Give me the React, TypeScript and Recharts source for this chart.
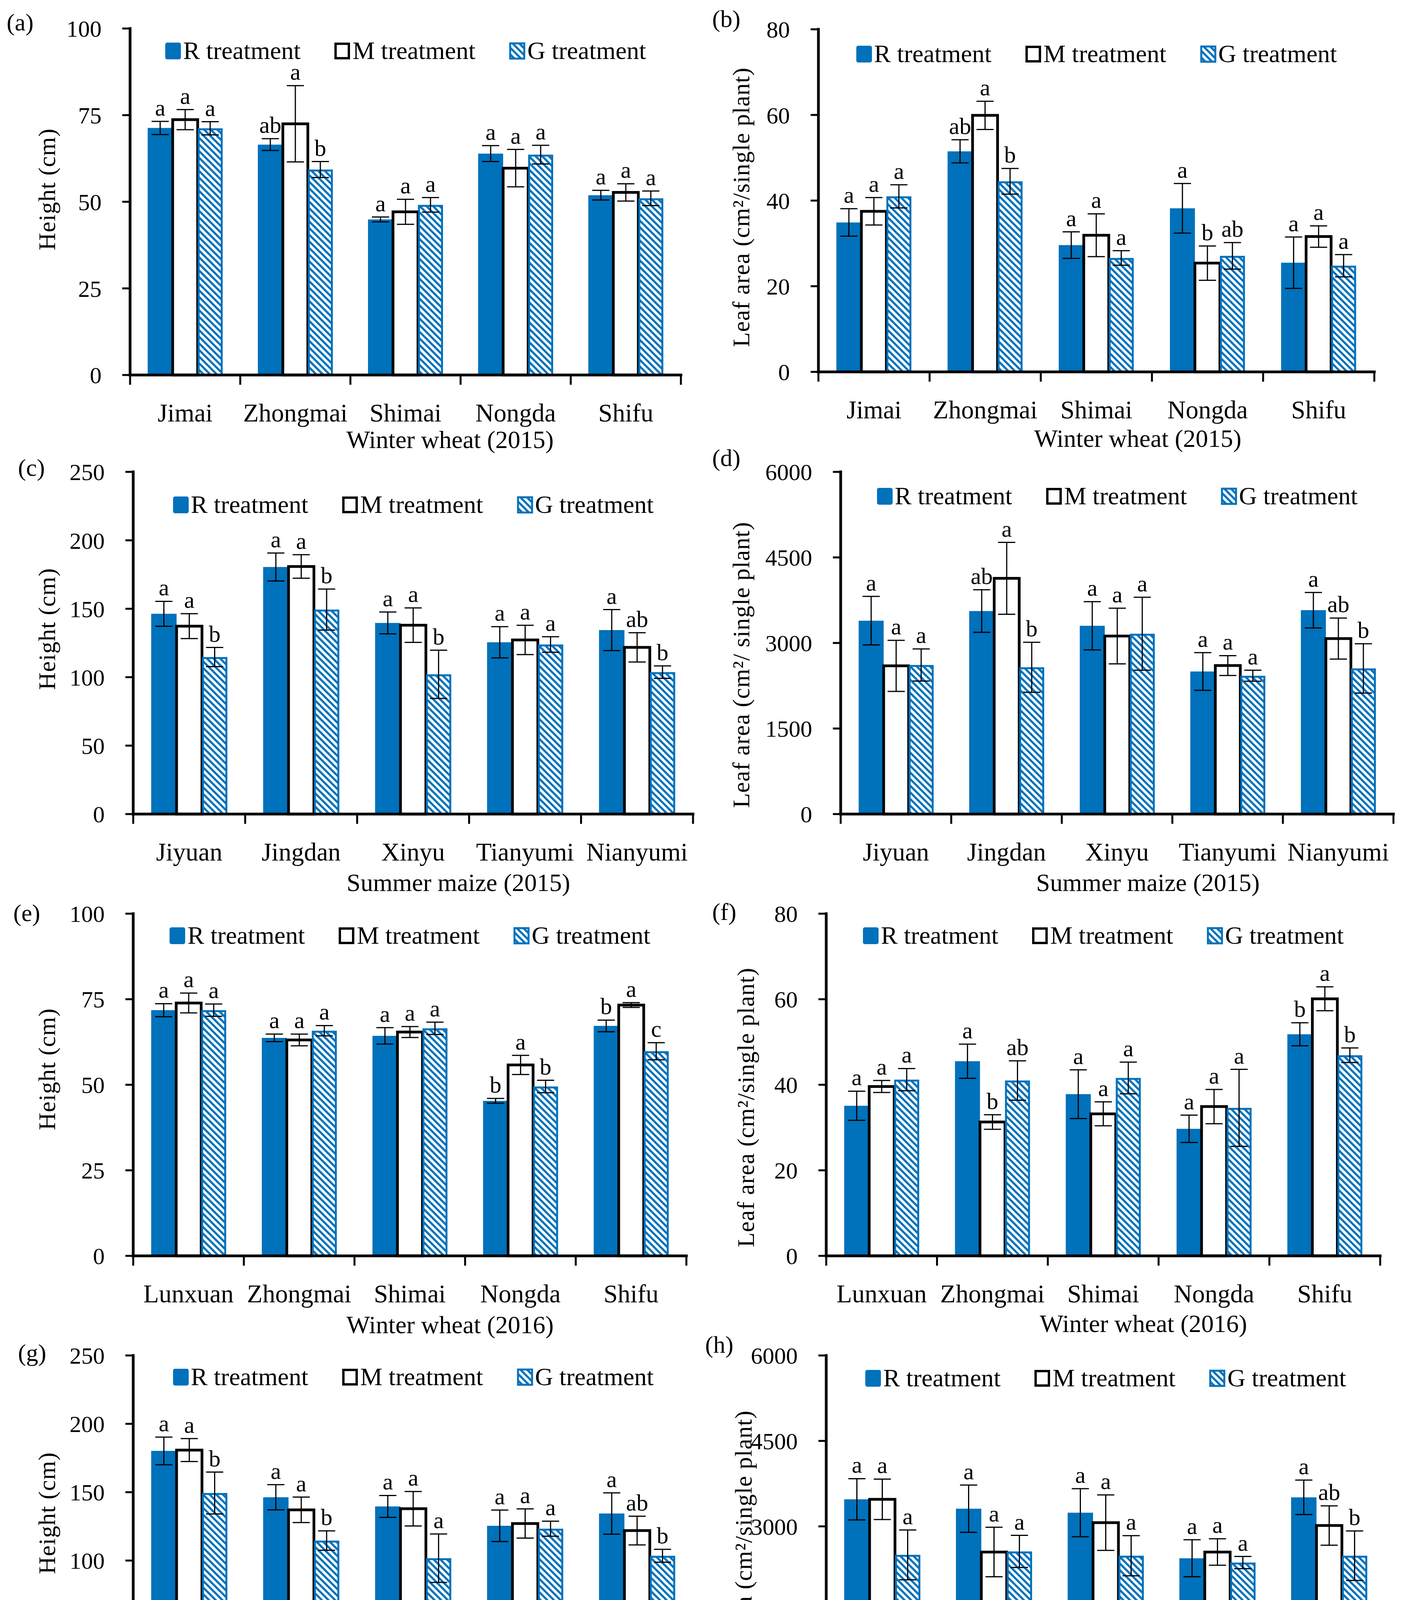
import React from 'react';
import { BarChart, Bar, XAxis, YAxis, ErrorBar, LabelList, Legend } from 'recharts';

const FONT = '"Liberation Serif", "Times New Roman", Times, serif';
const BLUE = '#0071BB';
const PAGE_W = 3594;
const PAGE_H = 4573;
const COL_W = 1797;
const ROW_H = 1143;
const CHART_H = ROW_H + 90;
const Y_W = 160;
const X_H = 60;

// categories
const WHEAT_2015 = ['Jimai', 'Zhongmai', 'Shimai', 'Nongda', 'Shifu'];
const WHEAT_2016 = ['Lunxuan', 'Zhongmai', 'Shimai', 'Nongda', 'Shifu'];
const MAIZE = ['Jiyuan', 'Jingdan', 'Xinyu', 'Tianyumi', 'Nianyumi'];
const SERIES = ['R treatment', 'M treatment', 'G treatment'];

// tick labels
const TICKS_H100 = [0, 25, 50, 75, 100];
const TICKS_L80 = [0, 20, 40, 60, 80];
const TICKS_H250 = [0, 50, 100, 150, 200, 250];
const TICKS_L6000 = [0, 1500, 3000, 4500, 6000];

// (a) height, winter wheat 2015
const aR = [71.3, 66.5, 44.9, 63.9, 51.9];
const aM = [73.7, 72.5, 47.1, 59.7, 52.7];
const aG = [71.2, 59.3, 49.1, 63.6, 51.0];
const aRE = [1.9, 1.7, 0.7, 2.3, 1.4];
const aME = [2.9, 11.0, 3.6, 5.4, 2.5];
const aGE = [1.9, 2.3, 2.1, 2.7, 2.1];
const aLet = [['a', 'a', 'a'], ['ab', 'a', 'b'], ['a', 'a', 'a'], ['a', 'a', 'a'], ['a', 'a', 'a']];

// (b) leaf area, winter wheat 2015
const bR = [34.9, 51.5, 29.6, 38.2, 25.5];
const bM = [37.5, 59.9, 31.9, 25.4, 31.6];
const bG = [41.0, 44.5, 26.6, 27.1, 24.8];
const bRE = [3.2, 2.7, 3.1, 5.8, 6.0];
const bME = [3.2, 3.3, 5.0, 4.0, 2.5];
const bGE = [2.7, 3.0, 1.7, 3.1, 2.6];
const bLet = [['a', 'a', 'a'], ['ab', 'a', 'b'], ['a', 'a', 'a'], ['a', 'b', 'ab'], ['a', 'a', 'a']];

// (c) height, summer maize 2015
const cR = [146.3, 180.5, 139.6, 125.5, 134.4];
const cM = [137.3, 180.9, 138.0, 127.2, 121.8];
const cG = [114.7, 149.4, 102.1, 123.9, 103.7];
const cRE = [9.1, 10.2, 8.0, 11.4, 15.0];
const cME = [9.1, 8.6, 12.6, 10.7, 10.7];
const cGE = [7.0, 15.0, 17.6, 5.7, 4.5];
const cLet = [['a', 'a', 'b'], ['a', 'a', 'b'], ['a', 'a', 'b'], ['a', 'a', 'a'], ['a', 'ab', 'b']];

// (d) leaf area, summer maize 2015
const dR = [3391, 3560, 3301, 2500, 3575];
const dM = [2599, 4133, 3122, 2604, 3077];
const dG = [2614, 2574, 3162, 2425, 2554];
const dRE = [425, 373, 423, 331, 311];
const dME = [448, 630, 488, 174, 359];
const dGE = [281, 438, 640, 97, 433];
const dLet = [['a', 'a', 'a'], ['ab', 'a', 'b'], ['a', 'a', 'a'], ['a', 'a', 'a'], ['a', 'ab', 'b']];

// (e) height, winter wheat 2016
const eR = [71.8, 63.7, 64.3, 45.3, 67.2];
const eM = [73.9, 63.1, 65.4, 55.8, 73.3];
const eG = [71.8, 65.8, 66.5, 49.5, 59.8];
const eRE = [1.9, 1.1, 2.4, 0.7, 1.7];
const eME = [2.9, 1.7, 1.6, 2.8, 0.7];
const eGE = [1.8, 1.5, 1.8, 1.8, 2.5];
const eLet = [['a', 'a', 'a'], ['a', 'a', 'a'], ['a', 'a', 'a'], ['b', 'a', 'b'], ['b', 'a', 'c']];

// (f) leaf area, winter wheat 2016
const fR = [35.1, 45.5, 37.8, 29.7, 51.8];
const fM = [39.6, 31.3, 33.2, 34.9, 60.1];
const fG = [41.2, 41.0, 41.6, 34.6, 46.9];
const fRE = [3.4, 4.0, 5.7, 3.2, 2.7];
const fME = [1.4, 1.7, 2.8, 4.0, 2.8];
const fGE = [2.6, 4.6, 3.7, 9.0, 1.7];
const fLet = [['a', 'a', 'a'], ['a', 'b', 'ab'], ['a', 'a', 'a'], ['a', 'a', 'a'], ['b', 'a', 'b']];

// (g) height, summer maize 2016
const gR = [180.2, 146.3, 139.6, 125.4, 134.4];
const gM = [180.8, 137.1, 137.9, 127.1, 121.9];
const gG = [149.4, 114.6, 101.7, 123.3, 103.5];
const gRE = [10.1, 9.2, 8.0, 11.5, 15.1];
const gME = [8.4, 9.3, 12.6, 10.7, 10.5];
const gGE = [15.3, 7.1, 17.7, 5.5, 4.7];
const gLet = [['a', 'a', 'b'], ['a', 'a', 'b'], ['a', 'a', 'a'], ['a', 'a', 'a'], ['a', 'ab', 'b']];

// (h) leaf area, summer maize 2016
const hR = [3475, 3310, 3240, 2440, 3510];
const hM = [3475, 2550, 3065, 2550, 3015];
const hG = [2500, 2560, 2485, 2365, 2485];
const hRE = [362, 415, 422, 325, 302];
const hME = [355, 435, 487, 232, 345];
const hGE = [437, 282, 352, 107, 435];
const hLet = [['a', 'a', 'a'], ['a', 'a', 'a'], ['a', 'a', 'a'], ['a', 'a', 'a'], ['a', 'ab', 'b']];

const LEAF = 'Leaf area (cm\u00B2/single plant)';

const PANELS = [
  { id: 'a', cats: WHEAT_2015, r: aR, m: aM, g: aG, re: aRE, me: aME, ge: aGE, lets: aLet, ticks: TICKS_H100, yTitle: 'Height (cm)', xTitle: 'Winter wheat (2015)' },
  { id: 'b', cats: WHEAT_2015, r: bR, m: bM, g: bG, re: bRE, me: bME, ge: bGE, lets: bLet, ticks: TICKS_L80, yTitle: LEAF, xTitle: 'Winter wheat (2015)' },
  { id: 'c', cats: MAIZE, r: cR, m: cM, g: cG, re: cRE, me: cME, ge: cGE, lets: cLet, ticks: TICKS_H250, yTitle: 'Height (cm)', xTitle: 'Summer maize (2015)' },
  { id: 'd', cats: MAIZE, r: dR, m: dM, g: dG, re: dRE, me: dME, ge: dGE, lets: dLet, ticks: TICKS_L6000, yTitle: 'Leaf area (cm\u00B2/ single plant)', xTitle: 'Summer maize (2015)' },
  { id: 'e', cats: WHEAT_2016, r: eR, m: eM, g: eG, re: eRE, me: eME, ge: eGE, lets: eLet, ticks: TICKS_H100, yTitle: 'Height (cm)', xTitle: 'Winter wheat (2016)' },
  { id: 'f', cats: WHEAT_2016, r: fR, m: fM, g: fG, re: fRE, me: fME, ge: fGE, lets: fLet, ticks: TICKS_L80, yTitle: LEAF, xTitle: 'Winter wheat (2016)' },
  { id: 'g', cats: MAIZE, r: gR, m: gM, g: gG, re: gRE, me: gME, ge: gGE, lets: gLet, ticks: TICKS_H250, yTitle: 'Height (cm)', xTitle: 'Summer maize (2016)' },
  { id: 'h', cats: MAIZE, r: hR, m: hM, g: hG, re: hRE, me: hME, ge: hGE, lets: hLet, ticks: TICKS_L6000, yTitle: LEAF, xTitle: 'Summer maize (2016)' },
];

// plot box on the page [left, top, right, bottom], panel tag, title offsets, legend offset
const LAYOUT: Record<string, any> = {
  a: { col: 0, row: 0, box: [333, 73, 1743, 960], tag: [17, 57], yt: [-213, -32], xt: [114, 165], lg: 57 },
  b: { col: 1, row: 0, box: [2095, 75, 3518, 952], tag: [1823, 48], yt: [-198, 17], xt: [106, 170], lg: 63 },
  c: { col: 0, row: 1, box: [341, 1208, 1774, 2084], tag: [46, 1197], yt: [-221, -36], xt: [116, 175], lg: 84 },
  d: { col: 1, row: 1, box: [2152, 1208, 3567, 2084], tag: [1823, 1172], yt: [-255, 56], xt: [79, 175], lg: 62 },
  e: { col: 0, row: 2, box: [341, 2339, 1757, 3215], tag: [34, 2337], yt: [-221, -40], xt: [103, 176], lg: 56 },
  f: { col: 1, row: 2, box: [2115, 2339, 3533, 3215], tag: [1823, 2334], yt: [-206, 58], xt: [103, 173], lg: 56 },
  g: { col: 0, row: 3, box: [341, 3470, 1774, 4345], tag: [46, 3463], yt: [-221, -34], xt: [115, 179], lg: 55 },
  h: { col: 1, row: 3, box: [2115, 3470, 3545, 4345], tag: [1805, 3442], yt: [-212, 61], xt: [116, 179], lg: 58 },
};

const HatchDef = ({ id }: { id: string }) => (
  <pattern id={id} patternUnits="userSpaceOnUse" width={12} height={12} patternTransform="rotate(-45)">
    <rect width={12} height={12} fill="#fff" />
    <rect width={5.5} height={12} fill={BLUE} />
  </pattern>
);

const LegendIcon = ({ kind, id }: { kind: string; id: string }) => (
  <svg width={43} height={48} style={{ display: 'block' }}>
    {kind === 'g' && (
      <defs>
        <HatchDef id={id} />
      </defs>
    )}
    {kind === 'r' && <rect x={1} y={3} width={40} height={43} rx={5} fill={BLUE} />}
    {kind === 'm' && <rect x={4} y={6} width={34} height={37} fill="#fff" stroke="#000" strokeWidth={6} />}
    {kind === 'g' && <rect x={3} y={5} width={36} height={39} fill={`url(#${id})`} stroke={BLUE} strokeWidth={5} />}
  </svg>
);

const TreatmentLegend = ({ pid }: any) => (
  <div style={{ display: 'flex', justifyContent: 'center', alignItems: 'center', height: 60, fontFamily: FONT, fontSize: 64, color: '#000', whiteSpace: 'nowrap' }}>
    {SERIES.map((s, i) => (
      <div key={s} style={{ display: 'flex', alignItems: 'center', marginLeft: i ? 86 : 0 }}>
        <LegendIcon kind={['r', 'm', 'g'][i]} id={`lg-hatch-${pid}`} />
        <span style={{ marginLeft: 4, lineHeight: '60px' }}>{s}</span>
      </div>
    ))}
  </div>
);

const CatTick = (props: any) => {
  const { x, payload, index, band, count, axisY } = props;
  return (
    <g>
      <line x1={x - band / 2} x2={x - band / 2} y1={axisY} y2={axisY + 25} stroke="#000" strokeWidth={5} />
      {index === count - 1 && <line x1={x + band / 2} x2={x + band / 2} y1={axisY} y2={axisY + 25} stroke="#000" strokeWidth={5} />}
      <text x={x} y={axisY + 97} textAnchor="middle" dominantBaseline="central" fontSize={65} fontFamily={FONT} fill="#000">
        {payload.value}
      </text>
    </g>
  );
};

const YTitle = ({ cx, cy, txt }: any) => (
  <text x={cx} y={cy} transform={`rotate(-90 ${cx} ${cy})`} textAnchor="middle" dominantBaseline="central" fontSize={62} fontFamily={FONT} fill="#000" letterSpacing={1}>
    {txt}
  </text>
);

const XTitle = ({ cx, cy, txt }: any) => (
  <text x={cx} y={cy} textAnchor="middle" dominantBaseline="central" fontSize={64} fontFamily={FONT} fill="#000">
    {txt}
  </text>
);

function PanelChart({ p }: { p: any }) {
  const lay = LAYOUT[p.id];
  const colLeft = lay.col * COL_W;
  const rowTop = lay.row * ROW_H;
  const [L, T, R, B] = lay.box;
  const plotW = R - L;
  const plotH = B - T;
  const n = p.cats.length;
  const band = plotW / n;
  const max = p.ticks[p.ticks.length - 1];
  const localL = L - colLeft;
  const localT = T - rowTop;
  const localB = B - rowTop;
  const hatch = `hatch-${p.id}`;

  const data = p.cats.map((name: string, i: number) => ({
    name,
    r: p.r[i], m: p.m[i], g: p.g[i],
    rErr: p.re[i], mErr: p.me[i], gErr: p.ge[i],
    rLet: p.lets[i][0], mLet: p.lets[i][1], gLet: p.lets[i][2],
  }));

  const letter = (key: string, errKey: string) => (props: any) => {
    const vb = props.viewBox || {};
    const x = props.x ?? vb.x;
    const y = props.y ?? vb.y;
    const w = props.width ?? vb.width;
    const h = props.height ?? vb.height;
    const d = data[props.index];
    if (!d || x == null) return null;
    const val = d[key];
    const top = h && val ? y - (d[errKey] * h) / val : localT + plotH * (1 - (val + d[errKey]) / max);
    return (
      <text x={x + w / 2} y={top - 15} textAnchor="middle" fontSize={60} fontFamily={FONT} fill="#000">
        {props.value}
      </text>
    );
  };

  const axisLine = { stroke: '#000', strokeWidth: 7, strokeLinecap: 'square' as const };

  return (
    <div style={{ position: 'absolute', left: colLeft, top: rowTop, width: COL_W, height: CHART_H }}>
      <BarChart
        width={COL_W}
        height={CHART_H}
        data={data}
        margin={{ top: localT, left: localL - Y_W, right: colLeft + COL_W - R, bottom: CHART_H - localB - X_H }}
        barGap={0}
        barSize={Math.round(band * 0.226)}
      >
        <defs>
          <HatchDef id={hatch} />
        </defs>
        <XAxis
          dataKey="name"
          height={X_H}
          interval={0}
          tickLine={false}
          tickSize={0}
          tickMargin={0}
          axisLine={axisLine}
          tick={<CatTick band={band} count={n} axisY={localB} />}
          label={<XTitle cx={localL + plotW / 2 + lay.xt[0]} cy={localB + lay.xt[1]} txt={p.xTitle} />}
        />
        <XAxis xAxisId="top" orientation="top" dataKey="name" height={0} tick={false} tickLine={false} axisLine={axisLine} />
        <YAxis
          type="number"
          width={Y_W}
          domain={[0, max]}
          ticks={p.ticks}
          interval={0}
          tickSize={20}
          tickMargin={53}
          tickLine={{ stroke: '#000', strokeWidth: 5 }}
          axisLine={axisLine}
          tick={{ fill: '#000', fontSize: 60, fontFamily: FONT }}
          label={<YTitle cx={localL + lay.yt[0]} cy={localT + plotH / 2 + lay.yt[1]} txt={p.yTitle} />}
        />
        <YAxis yAxisId="right" orientation="right" width={0} domain={[0, max]} tick={false} tickLine={false} axisLine={axisLine} />
        <Legend
          layout="horizontal"
          verticalAlign="middle"
          align="center"
          content={<TreatmentLegend pid={p.id} />}
          wrapperStyle={{ top: localT + lay.lg - 30, left: localL, width: plotW, height: 60 }}
        />
        <Bar dataKey="r" name="R treatment" fill={BLUE} isAnimationActive={false}>
          <ErrorBar dataKey="rErr" width={22} strokeWidth={3} stroke="#000" />
          <LabelList dataKey="rLet" content={letter('r', 'rErr')} />
        </Bar>
        <Bar dataKey="m" name="M treatment" fill="#fff" stroke="#000" strokeWidth={7} isAnimationActive={false}>
          <ErrorBar dataKey="mErr" width={22} strokeWidth={3} stroke="#000" />
          <LabelList dataKey="mLet" content={letter('m', 'mErr')} />
        </Bar>
        <Bar
          dataKey="g"
          name="G treatment"
          fill={`url(#${hatch})`}
          isAnimationActive={false}
          shape={(sp: any) => (
            <rect
              x={sp.x + 2.5}
              y={sp.y + 2.5}
              width={Math.max(sp.width - 5, 0)}
              height={Math.max(sp.height - 2.5, 0)}
              fill={`url(#${hatch})`}
              stroke={BLUE}
              strokeWidth={5}
            />
          )}
        >
          <ErrorBar dataKey="gErr" width={22} strokeWidth={3} stroke="#000" />
          <LabelList dataKey="gLet" content={letter('g', 'gErr')} />
        </Bar>
      </BarChart>
    </div>
  );
}

export default function App() {
  return (
    <div style={{ position: 'relative', width: PAGE_W, height: PAGE_H, background: '#fff', overflow: 'hidden' }}>
      <style>{'body{margin:0;}'}</style>
      {PANELS.map((p) => (
        <PanelChart key={p.id} p={p} />
      ))}
      {PANELS.map((p) => {
        const lay = LAYOUT[p.id];
        return (
          <div
            key={`tag-${p.id}`}
            style={{ position: 'absolute', left: lay.tag[0], top: lay.tag[1] - 35, fontFamily: FONT, fontSize: 62, lineHeight: '70px', color: '#000' }}
          >
            ({p.id})
          </div>
        );
      })}
    </div>
  );
}
